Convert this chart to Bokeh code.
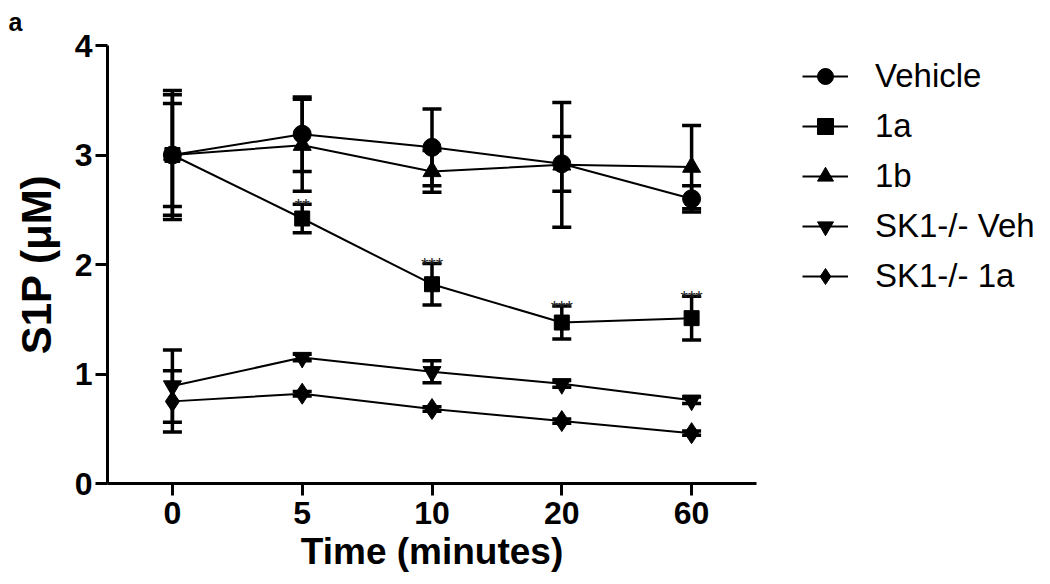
from bokeh.plotting import figure
from bokeh.models import (ColumnDataSource, Whisker, TeeHead, Legend, LegendItem,
                          FixedTicker, Range1d)
from bokeh.embed import file_html
from bokeh.resources import INLINE
from bokeh.core.properties import value

# ---- data ----
times = ["0", "5", "10", "20", "60"]
series_names = ["Vehicle", "1a", "1b", "SK1-/- Veh", "SK1-/- 1a"]
vehicle = [3.00, 3.19, 3.07, 2.92, 2.60]
vehicle_sem = [0.55, 0.34, 0.35, 0.25, 0.12]
one_a = [3.00, 2.42, 1.82, 1.47, 1.51]
one_a_sem = [0.47, 0.13, 0.19, 0.15, 0.20]
one_b = [3.00, 3.09, 2.85, 2.91, 2.89]
one_b_sem = [0.59, 0.42, 0.19, 0.57, 0.38]
sk_veh = [0.89, 1.15, 1.02, 0.91, 0.76]
sk_veh_sem = [0.33, 0.03, 0.10, 0.03, 0.03]
sk_1a = [0.75, 0.82, 0.68, 0.57, 0.46]
sk_1a_sem = [0.28, 0.02, 0.02, 0.02, 0.02]
sig_labels = ["", "**", "***", "***", "***"]   # significance marks over 1a

y_ticks = [0, 1, 2, 3, 4]

FONT = "Liberation Sans"

p = figure(frame_width=649, frame_height=438, output_backend="svg",
           toolbar_location=None, x_range=Range1d(-0.5, 4.5), y_range=Range1d(0, 4),
           min_border_left=107, min_border_top=45, min_border_right=294,
           min_border_bottom=95)
p.outline_line_color = None
p.xgrid.visible = False
p.ygrid.visible = False
p.background_fill_color = "white"
p.border_fill_color = "white"

p.title.text = "a"
p.title.align = "left"
p.title.offset = -99
p.title.standoff = 15
p.title.vertical_align = "top"
p.title.text_font = FONT
p.title.text_font_style = "bold"
p.title.text_font_size = "25px"
p.title.text_color = "black"

xs = list(range(len(times)))

for ax in (p.xaxis[0], p.yaxis[0]):
    ax.axis_line_width = 3
    ax.major_tick_line_width = 3
    ax.major_tick_out = 12
    ax.major_tick_in = 0
    ax.minor_tick_line_color = None
    ax.major_label_text_font = FONT
    ax.major_label_text_font_style = "bold"
    ax.major_label_text_font_size = "32px"
    ax.major_label_text_color = "black"
    ax.axis_label_text_font = FONT
    ax.axis_label_text_font_style = "bold"
    ax.axis_label_text_color = "black"

p.xaxis.ticker = FixedTicker(ticks=xs)
p.xaxis.major_label_overrides = {i: t for i, t in enumerate(times)}
p.xaxis.axis_label = "Time (minutes)"
p.xaxis.axis_label_text_font_size = "37px"
p.xaxis.major_label_standoff = 6
p.xaxis.axis_label_standoff = 4

p.yaxis.ticker = FixedTicker(ticks=y_ticks)
p.yaxis.major_label_overrides = {t: str(t) for t in y_ticks}
p.yaxis.axis_label = "S1P (\u03bcM)"
p.yaxis.axis_label_text_font_size = "42px"
p.yaxis.major_label_standoff = 3
p.yaxis.axis_label_standoff = 12

markers = ["circle", "square", "triangle", "inverted_triangle", "diamond"]
msizes = [18, 15, 18, 18, 21]
means = [vehicle, one_a, one_b, sk_veh, sk_1a]
sems = [vehicle_sem, one_a_sem, one_b_sem, sk_veh_sem, sk_1a_sem]

legend_items = []
for name, mk, ms, m, s in zip(series_names, markers, msizes, means, sems):
    src = ColumnDataSource(dict(x=xs, y=m,
                                upper=[a + b for a, b in zip(m, s)],
                                lower=[a - b for a, b in zip(m, s)]))
    p.line("x", "y", source=src, line_color="black", line_width=2)
    w = Whisker(source=src, base="x", upper="upper", lower="lower",
                line_color="black", line_width=3.5,
                upper_head=TeeHead(size=19, line_width=3.5, line_color="black"),
                lower_head=TeeHead(size=19, line_width=3.5, line_color="black"))
    p.add_layout(w)
    p.scatter("x", "y", source=src, marker=mk, size=ms, fill_color="black",
              line_color="black")
    # legend-only renderers: points placed outside the visible ranges
    off = ColumnDataSource(dict(x=[-50, -49], y=[-50, -50]))
    lr = p.line("x", "y", source=off, line_color="black", line_width=2)
    sr = p.scatter("x", "y", source=off, marker=mk, size=13, fill_color="black",
                   line_color="black")
    legend_items.append(LegendItem(label=name, renderers=[lr, sr]))

# significance asterisks
sig_src = ColumnDataSource(dict(x=xs, y=[a + b for a, b in zip(one_a, one_a_sem)],
                                t=sig_labels))
p.text("x", "y", text="t", source=sig_src, text_font=value(FONT),
       text_font_size="19px", text_color="#222222", text_align="center",
       text_baseline="alphabetic", y_offset=1)

legend = Legend(items=legend_items, location=(46, 187), padding=0, margin=0,
                border_line_color=None, background_fill_alpha=0,
                glyph_width=46, glyph_height=40, spacing=10, label_standoff=27,
                label_text_font=FONT, label_text_font_size="33px",
                label_text_color="black", label_height=40)
p.add_layout(legend, "right")

open("out.html", "w").write(file_html(p, INLINE))
